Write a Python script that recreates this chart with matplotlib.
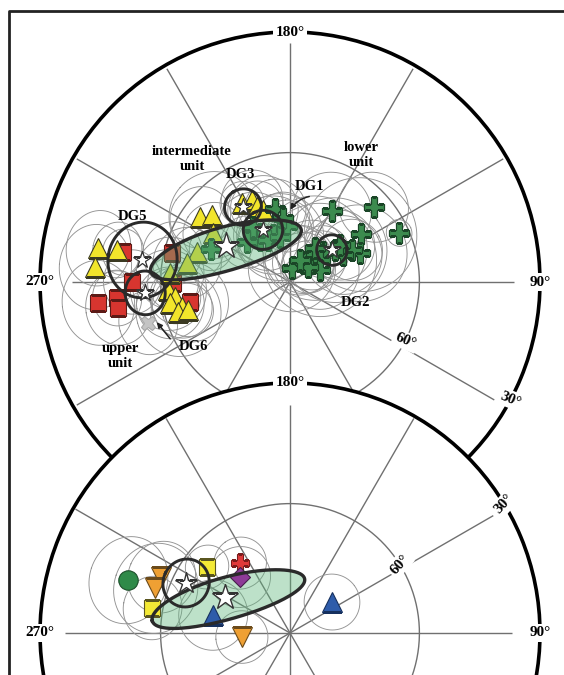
import numpy as np
import matplotlib
matplotlib.use("Agg")
import matplotlib.pyplot as plt
from matplotlib.transforms import Affine2D
from matplotlib.lines import Line2D
from matplotlib.patches import FancyArrowPatch

# ---------------------------------------------------------------- data
# Upper net: site-mean directions (declination, inclination, alpha95), degrees
lower_dec = [149.4, 131.8, 114.2, 123.9, 112.5, 117.3, 117.0, 125.4, 132.3, 140.8,
             126.3, 145.6, 172.0, 111.8, 129.8, 155.6, 191.6, 183.1, 199.9, 215.5,
             213.9, 227.1, 247.1, 207.6, 192.5, 186.2, 143.7, 126.5]
lower_inc = [71.0, 64.0, 62.3, 70.3, 72.6, 73.9, 76.3, 77.3, 79.7, 82.0,
             81.4, 84.7, 86.8, 82.6, 84.6, 84.5, 72.9, 77.1, 78.5, 78.2,
             74.7, 76.5, 70.2, 79.1, 79.4, 75.2, 80.3, 75.7]
lower_a95 = [9, 8, 3, 13, 11, 7, 9, 12, 6, 8, 13, 7, 10, 9, 6, 8, 7, 6, 9, 5,
             8, 6, 5, 7, 10, 6, 12, 8]

inter_dec = [260.0, 259.5, 265.6, 234.2, 229.3, 211.3, 204.9, 203.7, 200.6, 273.8,
             277.4, 279.9, 283.0, 285.0, 285.3, 265.7, 252.1, 259.5, 237.5]
inter_inc = [44.1, 48.8, 43.9, 64.4, 66.3, 68.7, 69.2, 71.1, 72.3, 61.7,
             63.2, 61.8, 64.4, 63.2, 65.5, 62.1, 67.5, 65.8, 69.0]
inter_a95 = [8, 6, 9, 7, 10, 5, 7, 6, 8, 9, 6, 8, 7, 10, 6, 8, 6, 8, 7]

upper_dec = [259.8, 270.0, 276.2, 275.3, 278.6, 256.2, 281.3, 270.5]
upper_inc = [50.3, 53.2, 44.5, 49.3, 49.3, 61.9, 66.4, 62.9]
upper_a95 = [5, 7, 9, 6, 8, 7, 9, 6]

rejected_dec = [286.1]
rejected_inc = [55.6]
rejected_a95 = [7]

# Directional-group means and their alpha95 (DG1, DG2, DG3, DG5, DG6)
group_names = ["DG1", "DG2", "DG3", "DG5", "DG6"]
group_dec = [207.4, 127.3, 212.1, 261.5, 274.3]
group_inc = [76.5, 77.9, 69.6, 55.2, 56.2]
group_a95 = [4.5, 3.5, 4.2, 8.3, 4.8]

# Overall mean and its confidence ellipse (semi-axes and orientation)
mean_dec, mean_inc = 240.6, 73.2
ell_dec, ell_inc = 243.1, 73.2
ell_major, ell_minor, ell_rot = 18.0, 5.0, 42.0

# Lower net: reference directions
circ_dec, circ_inc, circ_a95 = [251.9], [50.1], [9.5]
tri_down_dec, tri_down_inc, tri_down_a95 = [246.5, 251.6, 274.8], [57.4, 57.0, 78.9], [8, 10, 6]
sq_dec, sq_inc, sq_a95 = [231.5, 259.7], [65.5, 57.5], [5, 7]
plus_dec, plus_inc, plus_a95 = [215.5], [70.2], [6]
dia_dec, dia_inc, dia_a95 = [221.8], [72.7], [7]
tri_up_dec, tri_up_inc, tri_up_a95 = [256.8, 126.4], [71.8, 78.0], [8, 6.4]
ref_star_dec, ref_star_inc = [244.3, 241.0], [63.3, 73.0]
ref_circle_a95 = 5.4
ref_ell_dec, ref_ell_inc = 240.9, 73.5
ref_ell_major, ref_ell_minor, ref_ell_rot = 18.2, 4.8, 44.0

# ---------------------------------------------------------------- helpers
W, H = 564, 675
fig = plt.figure(figsize=(W / 100, H / 100), dpi=100)
fig.patch.set_facecolor("white")
SERIF = ["Liberation Serif", "DejaVu Serif"]
GRID = "#707070"
THIN = "#939393"
DARK = "#2a2a2a"

PX = Affine2D().scale(1 / W, -1 / H).translate(0, 1) + fig.transFigure


def ea_forward(z):
    """Equal-area radius for a zenith distance (deg)."""
    return np.sin(np.radians(np.clip(z, 0.0, 180.0)) / 2.0)


def ea_inverse(r):
    return 2.0 * np.degrees(np.arcsin(np.clip(r, 0.0, 1.0)))


def to_polar(dec, inc):
    return np.radians(np.asarray(dec, float)), 90.0 - np.asarray(inc, float)


def cone(dec, inc, a, b=None, rot=0.0, n=241):
    """Small circle (or ellipse) of semi-angles a, b around a direction."""
    b = a if b is None else b
    d, i = np.radians(dec), np.radians(inc)
    c = np.array([np.cos(i) * np.cos(d), np.cos(i) * np.sin(d), np.sin(i)])
    er = np.array([np.sin(i) * np.cos(d), np.sin(i) * np.sin(d), -np.cos(i)])
    et = np.array([-np.sin(d), np.cos(d), 0.0])
    t = np.linspace(0, 2 * np.pi, n)
    al, be = np.radians(a) * np.cos(t), np.radians(b) * np.sin(t)
    rho = np.hypot(al, be)
    phi = np.arctan2(be, al) + np.radians(rot)
    v = (np.outer(np.cos(rho), c) + np.outer(np.sin(rho) * np.cos(phi), er)
         + np.outer(np.sin(rho) * np.sin(phi), et))
    dd = np.unwrap(np.arctan2(v[:, 1], v[:, 0]))
    ii = np.degrees(np.arcsin(np.clip(v[:, 2], -1, 1)))
    return dd, 90.0 - ii


def make_net(cx, cy, R=250):
    ax = fig.add_axes([(cx - R) / W, 1 - (cy + R) / H, 2 * R / W, 2 * R / H],
                      projection="polar")
    ax.set_theta_zero_location("S")
    ax.set_theta_direction(1)
    ax.set_rscale("function", functions=(ea_forward, ea_inverse))
    ax.set_rlim(0, 60)
    ax.grid(False)
    ax.set_xticks([])
    ax.set_yticks([])
    ax.patch.set_facecolor("white")
    ax.spines["polar"].set_linewidth(2.6)
    ax.spines["polar"].set_color("black")
    return ax


def spoke(ax, az, z0, z1):
    ax.plot(np.radians([az, az]), [z0, z1], color=GRID, lw=1.0, zorder=1,
            solid_capstyle="butt")


def arc(ax, z, a0, a1):
    t = np.radians(np.linspace(a0, a1, 400))
    ax.plot(t, np.full_like(t, z), color=GRID, lw=1.0, zorder=1)


def deg_label(ax, az, z, s, rot=0):
    ax.text(np.radians(az), z, s, ha="center", va="center", rotation=rot,
            rotation_mode="anchor", fontsize=11, fontweight="bold",
            family=SERIF, clip_on=False, zorder=9,
            bbox=dict(fc="white", ec="none", pad=1.6))


def circles(ax, dec, inc, a95, color=THIN, lw=0.65, z=2):
    for d, i, a in zip(dec, inc, a95):
        th, r = cone(d, i, a)
        ax.plot(th, r, color=color, lw=lw, zorder=z)


def marks(ax, dec, inc, marker, ms, fc, ec, mew=0.8, z=3):
    th, r = to_polar(dec, inc)
    ax.plot(th, r, ls="none", marker=marker, ms=ms, mfc=fc, mec=ec, mew=mew,
            zorder=z)


def label(x, y, s, **kw):
    fig.text(x, y, s, transform=PX, ha="center", va="center", fontsize=10.5,
             fontweight="bold", family=SERIF, linespacing=1.15, zorder=10, **kw)


# ---------------------------------------------------------------- upper net
top = make_net(290, 282)
for az, z1 in [(90, 53.2), (270, 51.6), (180, 57.2), (120, 59), (150, 59),
               (210, 59), (240, 59), (0, 59), (30, 59), (300, 59), (330, 59),
               (60, 56.3)]:
    spoke(top, az, 0, z1)
arc(top, 30, 0, 360)

circles(top, lower_dec, lower_inc, lower_a95)
circles(top, inter_dec, inter_inc, inter_a95)
circles(top, upper_dec, upper_inc, upper_a95)
circles(top, rejected_dec, rejected_inc, rejected_a95)

marks(top, upper_dec, upper_inc, "s", 11.5, "#d8352f", "#5c1a16")
marks(top, inter_dec, inter_inc, "^", 14, "#f2e52b", "#3b3a22")
marks(top, lower_dec, lower_inc, "P", 14, "#3c8b4e", "#1a4527", mew=0.9)
marks(top, rejected_dec, rejected_inc, "X", 10.5, "#c4c4c4", "#a8a8a8")

th, r = cone(ell_dec, ell_inc, ell_major, ell_minor, ell_rot)
top.fill(th, r, facecolor="#5cb57a", alpha=0.42, edgecolor="none", zorder=4)
top.plot(th, r, color=DARK, lw=2.4, zorder=5)
for d, i, a in zip(group_dec, group_inc, group_a95):
    th, r = cone(d, i, a)
    top.plot(th, r, color=DARK, lw=2.1, zorder=5)

marks(top, group_dec, group_inc, "*", 13, "white", "#333333", mew=0.9, z=6)
marks(top, [mean_dec], [mean_inc], "*", 20, "white", "#333333", mew=1.0, z=6)

deg_label(top, 180, 60, "180°")
deg_label(top, 270, 60, "270°")
deg_label(top, 90, 60, "90°")
deg_label(top, 63, 30, "60°", rot=-22)
deg_label(top, 62, 60, "30°", rot=-22)

# ---------------------------------------------------------------- lower net
bot = make_net(290, 633)
for az, z1 in [(90, 52.7), (270, 53.5), (180, 54.3), (150, 59.4), (210, 59.4),
               (240, 59.4), (120, 56.0), (0, 59), (30, 59), (300, 59), (330, 59)]:
    spoke(bot, az, 0, z1)
arc(bot, 30, 0, 360)

for dd, ii, aa in [(circ_dec, circ_inc, circ_a95),
                   (tri_down_dec, tri_down_inc, tri_down_a95),
                   (sq_dec, sq_inc, sq_a95), (plus_dec, plus_inc, plus_a95),
                   (dia_dec, dia_inc, dia_a95),
                   (tri_up_dec, tri_up_inc, tri_up_a95)]:
    circles(bot, dd, ii, aa)

th, r = cone(ref_ell_dec, ref_ell_inc, ref_ell_major, ref_ell_minor, ref_ell_rot)
bot.fill(th, r, facecolor="#5cb57a", alpha=0.40, edgecolor="none", zorder=2.5)

marks(bot, circ_dec, circ_inc, "o", 14, "#2f8a49", "#1d4f2b")
marks(bot, tri_down_dec, tri_down_inc, "v", 14, "#efa033", "#6b4a1a")
marks(bot, sq_dec, sq_inc, "s", 11.5, "#f3e935", "#5a5620")
marks(bot, plus_dec, plus_inc, "P", 13, "#e0393a", "#7a1c1c")
marks(bot, dia_dec, dia_inc, "D", 10, "#8e3b97", "#45204a")
marks(bot, tri_up_dec, tri_up_inc, "^", 14, "#2e5caa", "#16305e")

bot.plot(th, r, color=DARK, lw=2.4, zorder=5)
th, r = cone(ref_star_dec[0], ref_star_inc[0], ref_circle_a95)
bot.plot(th, r, color=DARK, lw=2.1, zorder=5)
marks(bot, ref_star_dec[:1], ref_star_inc[:1], "*", 16, "white", "#333333", mew=1.0, z=6)
marks(bot, ref_star_dec[1:], ref_star_inc[1:], "*", 19, "white", "#333333", mew=1.0, z=6)

deg_label(bot, 180, 60, "180°")
deg_label(bot, 270, 60, "270°")
deg_label(bot, 90, 60, "90°")
deg_label(bot, 122, 30, "60°", rot=48)
deg_label(bot, 121, 60, "30°", rot=48)

# ---------------------------------------------------------------- annotations
label(192, 159, "intermediate\nunit")
label(361, 155, "lower\nunit")
label(120, 356, "upper\nunit")
label(240, 174, "DG3")
label(309, 187, "DG1")
label(132, 216, "DG5")
label(355, 302, "DG2")
label(193, 346, "DG6")

fig.add_artist(FancyArrowPatch((312, 196), (289, 212), transform=PX,
                               arrowstyle="-|>", mutation_scale=8, lw=1.1,
                               color="#222222",
                               connectionstyle="arc3,rad=0.25"))
fig.add_artist(FancyArrowPatch((172, 341), (155, 320), transform=PX,
                               arrowstyle="-|>", mutation_scale=8, lw=1.1,
                               color="#222222"))

# outer frame
fig.add_artist(Line2D([9, 9, W + 5], [H + 5, 11, 11], transform=PX,
                      color="#222222", lw=2.0))

fig.savefig("out.png", dpi=100, facecolor="white")
